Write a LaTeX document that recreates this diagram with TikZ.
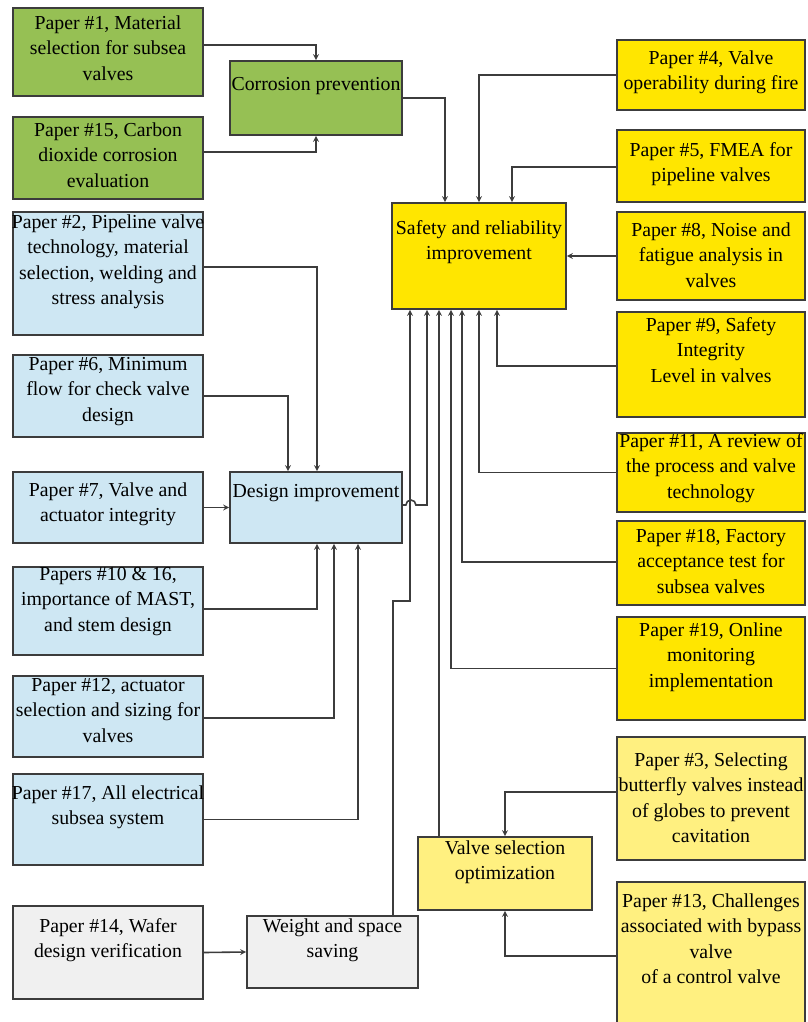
\documentclass[tikz,border=0pt]{standalone}
\usepackage{fontspec}
\setmainfont{Liberation Serif}
\usetikzlibrary{positioning, arrows}
\definecolor{boxline}{RGB}{60,60,60}
\definecolor{corrgreen}{RGB}{150,192,84}
\definecolor{designblue}{RGB}{206,231,243}
\definecolor{safeyellow}{RGB}{255,230,0}
\definecolor{selyellow}{RGB}{255,240,128}
\definecolor{weightgray}{RGB}{240,240,240}
\tikzset{>=stealth,
paperbox/.style={draw=boxline, line width=1.8pt, inner sep=0pt, minimum width=190pt},
hubbox/.style={draw=boxline, line width=1.8pt, inner sep=0pt, minimum width=172pt},
lbl/.style={align=center, inner sep=0pt, font=\fontsize{19.8}{25.5}\selectfont},
link/.style={->, draw=boxline, line width=1.6pt},
}

\begin{document}
\begin{tikzpicture}[x=1pt, y=-1pt]
	\useasboundingbox (0,0) rectangle (807,1022);
	% left column
	\node[paperbox, fill=corrgreen, minimum height=88pt] (p1) at (108,52) {};
	\node[lbl, below=8pt of p1.north] (p1t) {Paper \#1, Material\\selection for subsea\\valves};
	\node[paperbox, fill=corrgreen, minimum height=82pt] (p15) at (108,158) {};
	\node[lbl, below=6pt of p15.north] (p15t) {Paper \#15, Carbon\\dioxide corrosion\\evaluation};
	\node[paperbox, fill=designblue, minimum height=123pt] (p2) at (108,273.5) {};
	\node[lbl, below=3pt of p2.north] (p2t) {Paper \#2, Pipeline valve\\technology, material\\selection, welding and\\stress analysis};
	\node[paperbox, fill=designblue, minimum height=82pt] (p6) at (108,396) {};
	\node[lbl, below=3pt of p6.north] (p6t) {Paper \#6, Minimum\\flow for check valve\\design};
	\node[paperbox, fill=designblue, minimum height=71pt] (p7) at (108,507.5) {};
	\node[lbl, below=11pt of p7.north] (p7t) {Paper \#7, Valve and\\actuator integrity};
	\node[paperbox, fill=designblue, minimum height=88pt] (p10) at (108,611) {};
	\node[lbl, below=1pt of p10.north] (p10t) {Papers \#10 \& 16,\\importance of MAST,\\and stem design};
	\node[paperbox, fill=designblue, minimum height=81pt] (p12) at (108,716.5) {};
	\node[lbl, below=3pt of p12.north] (p12t) {Paper \#12, actuator\\selection and sizing for\\valves};
	\node[paperbox, fill=designblue, minimum height=91pt] (p17) at (108,819.5) {};
	\node[lbl, below=12pt of p17.north] (p17t) {Paper \#17, All electrical\\subsea system};
	\node[paperbox, fill=weightgray, minimum height=93pt] (p14) at (108,952.5) {};
	\node[lbl, below=13pt of p14.north] (p14t) {Paper \#14, Wafer\\design verification};

	% middle hubs
	\node[hubbox, fill=corrgreen, minimum height=74pt] (corr) at (316,98) {};
	\node[lbl, below=17pt of corr.north] (corrt) {Corrosion prevention};
	\node[hubbox, fill=designblue, minimum height=71pt] (design) at (316,507.5) {};
	\node[lbl, below=13pt of design.north] (designt) {Design improvement};
	\node[hubbox, fill=weightgray, minimum width=171pt, minimum height=72pt] (weight) at (332.5,952) {};
	\node[lbl, below=3pt of weight.north] (weightt) {Weight and space\\saving};
	\node[hubbox, fill=safeyellow, minimum width=174pt, minimum height=106pt] (safety) at (479,256) {};
	\node[lbl, below=18pt of safety.north] (safetyt) {Safety and reliability\\improvement};
	\node[hubbox, fill=selyellow, minimum width=174pt, minimum height=73pt] (valvesel) at (505,873.5) {};
	\node[lbl, below=4pt of valvesel.north] (valveselt) {Valve selection\\optimization};

	% right column
	\node[paperbox, fill=safeyellow, minimum width=188pt, minimum height=70pt] (p4) at (711,75) {};
	\node[lbl, below=11pt of p4.north] (p4t) {Paper \#4, Valve\\operability during fire};
	\node[paperbox, fill=safeyellow, minimum width=188pt, minimum height=72pt] (p5) at (711,166) {};
	\node[lbl, below=13pt of p5.north] (p5t) {Paper \#5, FMEA for\\pipeline valves};
	\node[paperbox, fill=safeyellow, minimum width=188pt, minimum height=88pt] (p8) at (711,256) {};
	\node[lbl, below=11pt of p8.north] (p8t) {Paper \#8, Noise and\\fatigue analysis in\\valves};
	\node[paperbox, fill=safeyellow, minimum width=188pt, minimum height=105pt] (p9) at (711,364.5) {};
	\node[lbl, below=6pt of p9.north] (p9t) {Paper \#9, Safety\\Integrity\\Level in valves};
	\node[paperbox, fill=safeyellow, minimum width=188pt, minimum height=79pt] (p11) at (711,472.5) {};
	\node[lbl, below=1pt of p11.north] (p11t) {Paper \#11, A review of\\the process and valve\\technology};
	\node[paperbox, fill=safeyellow, minimum width=188pt, minimum height=84pt] (p18) at (711,563) {};
	\node[lbl, below=9pt of p18.north] (p18t) {Paper \#18, Factory\\acceptance test for\\subsea valves};
	\node[paperbox, fill=safeyellow, minimum width=188pt, minimum height=103pt] (p19) at (711,668.5) {};
	\node[lbl, below=6pt of p19.north] (p19t) {Paper \#19, Online\\monitoring\\implementation};
	\node[paperbox, fill=selyellow, minimum width=188pt, minimum height=123pt] (p3) at (711,798.5) {};
	\node[lbl, below=16pt of p3.north] (p3t) {Paper \#3, Selecting\\butterfly valves instead\\of globes to prevent\\cavitation};
	\node[paperbox, fill=selyellow, minimum width=188pt, minimum height=144pt] (p13) at (711,954) {};
	\node[lbl, below=12pt of p13.north] (p13t) {Paper \#13, Challenges\\associated with bypass\\valve\\of a control valve};

	% corrosion links
	\draw[link] ([yshift=7pt]p1.east) -| (corr.north);
	\draw[link] ([yshift=6pt]p15.east) -| (corr.south);
	\draw[link] (corr.east) -| ([xshift=-34pt]safety.north);
	% links into safety
	\draw[link] (p4.west) -| (safety.north);
	\draw[link] ([yshift=-1pt]p5.west) -| ([xshift=33pt]safety.north);
	\draw[link] (p8.west) -- (safety.east);
	\draw[link] ([yshift=-1.5pt]p9.west) -| ([xshift=18pt]safety.south);
	\draw[link] (p11.west) -| (safety.south);
	\draw[link] ([yshift=1pt]p18.west) -| ([xshift=-17pt]safety.south);
	\draw[link] (p19.west) -| ([xshift=-28pt]safety.south);
	\draw[link] ([xshift=-66pt]valvesel.north) -- ([xshift=-66pt]valvesel.north |- safety.south);
	\draw[link] ([xshift=60.5pt]weight.north) -- ++(0,314pt) -| ([xshift=-69pt]safety.south);
	\draw[link] ([yshift=2.5pt]design.east) -- ++(3pt,0) arc[start angle=180, end angle=0, radius=5pt] -| ([xshift=-52pt]safety.south);
	% links into design
	\draw[link] ([yshift=6.5pt]p2.east) -| ([xshift=1pt]design.north);
	\draw[link] (p6.east) -| ([xshift=-28pt]design.north);
	\draw[link] (p7.east) -- (design.west);
	\draw[link] ([yshift=2pt]p10.east) -| ([xshift=1pt]design.south);
	\draw[link] ([yshift=-1.5pt]p12.east) -| ([xshift=18pt]design.south);
	\draw[link] (p17.east) -| ([xshift=42pt]design.south);
	% weight and selection
	\draw[link] (p14.east) -- (weight.west);
	\draw[link] ([yshift=6.5pt]p3.west) -| (valvesel.north);
	\draw[link] ([yshift=-2pt]p13.west) -| (valvesel.south);
\end{tikzpicture}
\end{document}
